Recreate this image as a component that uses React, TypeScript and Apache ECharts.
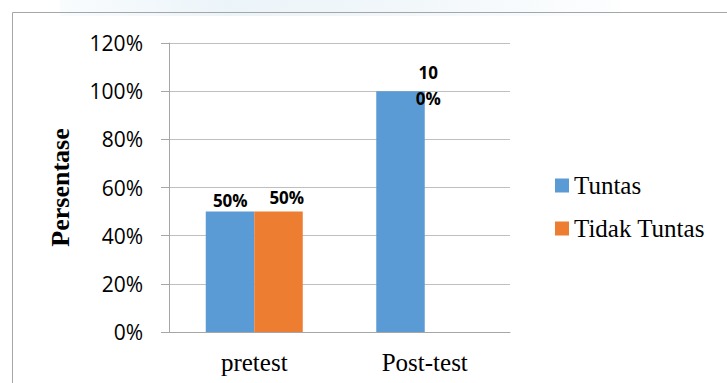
import React, { useEffect, useRef } from "react";
import * as echarts from "echarts";

const categories = ["pretest", "Post-test"];
const tuntasValues = [50, 100];
const tidakTuntasValues = [50, 0];
const tuntasLabels = ["50%", "10\n0%"];
const tidakTuntasLabels = ["50%", ""];
const yTicks = [0, 20, 40, 60, 80, 100, 120];
const seriesNames = ["Tuntas", "Tidak Tuntas"];
const yAxisTitle = "Persentase";

const BLUE = "#5b9bd5";
const ORANGE = "#ed7d31";

export default function App() {
  const ref = useRef<HTMLDivElement>(null);
  useEffect(() => {
    if (!ref.current) return;
    const chart = echarts.init(ref.current, undefined, { renderer: "svg" });
    const labelFont = {
      fontFamily: "'Open Sans', sans-serif",
      fontWeight: "bold" as const,
      fontSize: 17,
      color: "#000",
      align: "center" as const,
      verticalAlign: "middle" as const,
      lineHeight: 26,
    };
    const tuntasPos = [
      [24.5, -11],
      [52, -6],
    ];
    const tidakPos = [
      [32.5, -14.5],
      [32.5, -14.5],
    ];
    chart.setOption({
      animation: false,
      backgroundColor: "#fff",
      grid: { left: 169, right: 217, top: 43, bottom: 51, containLabel: false },
      graphic: [
        {
          type: "rect",
          shape: { x: 60, y: 0, width: 560, height: 16 },
          style: {
            fill: new echarts.graphic.LinearGradient(0, 0, 1, 0, [
              { offset: 0, color: "rgba(200,225,240,0.1)" },
              { offset: 0.3, color: "rgba(200,225,240,0.35)" },
              { offset: 0.6, color: "rgba(215,232,240,0.35)" },
              { offset: 1, color: "rgba(215,232,240,0.05)" },
            ]),
          },
          silent: true,
          z: -10,
        },
        {
          type: "rect",
          shape: { x: 12.5, y: 12.5, width: 800, height: 500 },
          style: { fill: "none", stroke: "#a6a6a6", lineWidth: 1 },
          silent: true,
        },
      ],
      legend: {
        orient: "vertical",
        left: 550,
        top: 168,
        itemWidth: 14,
        itemHeight: 14,
        itemGap: 18,
        icon: "rect",
        data: seriesNames,
        textStyle: {
          fontFamily: "'Liberation Serif', serif",
          fontSize: 25,
          color: "#000",
        },
      },
      xAxis: {
        type: "category",
        data: categories,
        axisLine: { show: true, lineStyle: { color: "#a6a6a6", width: 1 } },
        axisTick: { show: false },
        axisLabel: {
          margin: 18,
          fontFamily: "'Liberation Serif', serif",
          fontSize: 25,
          color: "#000",
        },
      },
      yAxis: {
        type: "value",
        min: 0,
        max: 120,
        interval: 20,
        name: yAxisTitle,
        nameLocation: "middle",
        nameGap: 96,
        nameTextStyle: {
          fontFamily: "'Liberation Serif', serif",
          fontWeight: "bold",
          fontSize: 26,
          color: "#000",
        },
        axisLine: { show: true, lineStyle: { color: "#a6a6a6", width: 1 } },
        axisTick: { show: true, length: 8, lineStyle: { color: "#a6a6a6" } },
        splitLine: { show: true, lineStyle: { color: "#bfbfbf", width: 1 } },
        axisLabel: {
          margin: 26,
          fontFamily: "'Open Sans', sans-serif",
          fontSize: 21,
          color: "#000",
          formatter: (v: number) => (yTicks.includes(v) ? `${v}%` : ""),
        },
      },
      series: [
        {
          name: seriesNames[0],
          type: "bar",
          barWidth: 48.5,
          barGap: "0%",
          itemStyle: { color: BLUE },
          data: tuntasValues.map((v, i) => ({
            value: v,
            label: {
              show: tuntasLabels[i] !== "",
              position: tuntasPos[i],
              formatter: tuntasLabels[i],
              ...labelFont,
            },
          })),
        },
        {
          name: seriesNames[1],
          type: "bar",
          barWidth: 48.5,
          barGap: "0%",
          itemStyle: { color: ORANGE },
          data: tidakTuntasValues.map((v, i) => ({
            value: v,
            label: {
              show: tidakTuntasLabels[i] !== "",
              position: tidakPos[i],
              formatter: tidakTuntasLabels[i],
              ...labelFont,
            },
          })),
        },
      ],
    });
    return () => chart.dispose();
  }, []);
  return (
    <div
      ref={ref}
      style={{ position: "fixed", left: 0, top: 0, width: 727, height: 383 }}
    />
  );
}
